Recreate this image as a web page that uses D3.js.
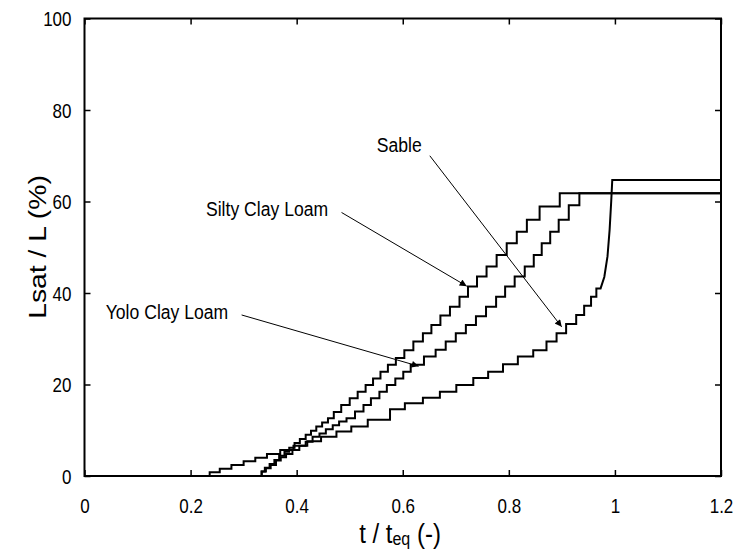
<!DOCTYPE html>
<html>
<head>
<meta charset="utf-8">
<script src="https://cdn.jsdelivr.net/npm/d3@7"></script>
<style>
  html, body { margin: 0; padding: 0; background: #fff; }
  svg { display: block; font-family: "Liberation Sans", Arial, sans-serif; }
</style>
</head>
<body>
<svg id="chart" width="739" height="550"></svg>
<script>
// ---- data ----
const xTicks = [0, 0.2, 0.4, 0.6, 0.8, 1, 1.2];
const yTicks = [0, 20, 40, 60, 80, 100];

// Silty Clay Loam : stair steps (start t of each step, level)
const siltyT = [0.327,0.334,0.340,0.349,0.358,0.367,0.377,0.386,0.396,0.406,0.417,0.427,0.437,0.448,0.459,0.470,0.484,0.500,0.515,0.530,0.544,0.558,0.572,0.587,0.603,0.620,0.638,0.654,0.671,0.689,0.707,0.723,0.740,0.758,0.777,0.796,0.815,0.834,0.858,0.896,1.2];
const siltyV = [0,1.0,1.8,2.6,3.5,4.4,5.3,6.2,7.2,8.1,9.0,9.9,10.8,11.7,12.6,14.0,15.5,17.0,18.4,19.9,21.3,22.8,24.3,25.8,27.5,29.4,31.2,33.0,35.1,37.0,39.2,41.4,43.6,45.8,48.3,50.9,53.4,56.0,58.9,61.8,61.8];

// Yolo Clay Loam
const yoloT = [0.327,0.334,0.342,0.351,0.361,0.370,0.380,0.392,0.405,0.417,0.430,0.443,0.455,0.468,0.480,0.494,0.510,0.526,0.540,0.556,0.570,0.586,0.601,0.615,0.640,0.662,0.681,0.700,0.719,0.738,0.757,0.776,0.793,0.811,0.830,0.847,0.862,0.878,0.894,0.913,0.933,1.2];
const yoloV = [0,1.0,1.7,2.4,3.4,4.1,4.8,5.7,6.6,7.5,8.6,9.3,10.2,11.1,11.9,12.6,14.1,15.5,17.0,18.4,19.9,21.3,22.8,24.3,26.1,27.6,29.4,31.2,33.0,34.9,37.0,39.2,41.4,43.6,45.8,48.3,50.9,53.4,56.0,59.2,61.8,61.8];

// Sable : stair part, then a smooth rise to the plateau
const sableT = [0.230,0.236,0.255,0.277,0.300,0.322,0.344,0.369,0.394,0.420,0.446,0.475,0.503,0.534,0.576,0.604,0.638,0.670,0.701,0.733,0.761,0.789,0.817,0.846,0.871,0.890,0.908,0.927,0.942,0.955,0.965];
const sableV = [0,0.8,1.6,2.4,3.2,4.0,4.8,5.7,6.6,7.6,8.6,9.7,10.8,12.3,14.6,15.9,17.1,18.4,19.9,21.4,22.8,24.4,26.1,27.5,29.4,31.2,33.2,35.2,37.2,39.2,41.0];
const sableTailT = [0.973,0.980,0.986,0.990,0.993,0.995,1.2];
const sableTailV = [41.0,43.5,48.0,53.8,60.0,64.7,64.7];

// annotations: label text, label position, arrow start, arrow tip (data units)
const annLabels = ["Silty Clay Loam", "Yolo Clay Loam", "Sable"];
const annLabelT = [0.2290, 0.0400, 0.551];
const annLabelV = [56.8, 34.3, 70.8];
const annFromT = [0.4846, 0.2962, 0.651];
const annFromV = [57.6, 35.2, 70.0];
const annToT = [0.7206, 0.630, 0.8996];
const annToV = [41.5, 24.0, 32.6];

// ---- drawing ----
const SY = 1.18;   // text in the reference is vertically stretched
const svg = d3.select("#chart");
const x = d3.scaleLinear().domain([0, 1.2]).range([84.5, 721]);
const y = d3.scaleLinear().domain([0, 100]).range([476, 18.5]);

function stairs(ts, vs, tailT, tailV) {
  const pts = [];
  for (let i = 0; i < ts.length; i++) {
    pts.push([ts[i], vs[i]]);
    const nextT = (i + 1 < ts.length) ? ts[i + 1] : (tailT ? tailT[0] : null);
    if (nextT !== null) pts.push([nextT, vs[i]]);
  }
  if (tailT) tailT.forEach((t, i) => pts.push([t, tailV[i]]));
  return pts;
}

const line = d3.line().x(d => x(d[0])).y(d => y(d[1]));

const series = [
  stairs(siltyT, siltyV),
  stairs(yoloT, yoloV),
  stairs(sableT, sableV, sableTailT, sableTailV)
];

svg.append("g").selectAll("path").data(series).join("path")
  .attr("d", line)
  .attr("fill", "none")
  .attr("stroke", "#000")
  .attr("stroke-width", 2)
  .attr("stroke-linejoin", "miter");

// axes (ticks inward on all four sides)
const tickLen = 6;
const axB = svg.append("g").attr("transform", `translate(0,${y(0)})`)
  .call(d3.axisBottom(x).tickValues(xTicks).tickSize(-tickLen).tickFormat(d3.format("")));
const axT = svg.append("g").attr("transform", `translate(0,${y(100)})`)
  .call(d3.axisTop(x).tickValues(xTicks).tickSize(-tickLen).tickFormat(""));
const axL = svg.append("g").attr("transform", `translate(${x(0)},0)`)
  .call(d3.axisLeft(y).tickValues(yTicks).tickSize(-tickLen));
const axR = svg.append("g").attr("transform", `translate(${x(1.2)},0)`)
  .call(d3.axisRight(y).tickValues(yTicks).tickSize(-tickLen).tickFormat(""));

[axB, axT, axL, axR].forEach(g => {
  g.select(".domain").remove();
  g.selectAll(".tick line").attr("stroke", "#000").attr("stroke-width", 1.5);
  g.selectAll("text").attr("fill", "#000").style("font-size", "17px")
    .style("font-family", '"Liberation Sans", Arial, sans-serif');
});
axB.selectAll("text").attr("y", 0).attr("dy", 0)
  .attr("transform", `translate(0,37) scale(1,${SY})`);
axL.selectAll("text").attr("x", 0).attr("dy", 0)
  .attr("transform", `translate(-13,7) scale(1,${SY})`);

// frame
svg.append("rect")
  .attr("x", x(0)).attr("y", y(100))
  .attr("width", x(1.2) - x(0)).attr("height", y(0) - y(100))
  .attr("fill", "none").attr("stroke", "#000").attr("stroke-width", 2);

// arrow marker
svg.append("defs").append("marker")
  .attr("id", "ah").attr("viewBox", "0 0 10 10")
  .attr("refX", 10).attr("refY", 5)
  .attr("markerWidth", 10).attr("markerHeight", 7)
  .attr("markerUnits", "userSpaceOnUse")
  .attr("orient", "auto")
  .append("path").attr("d", "M0,0 L10,5 L0,10 Z").attr("fill", "#000");

const ann = svg.append("g");
annLabels.forEach((lab, i) => {
  ann.append("line")
    .attr("x1", x(annFromT[i])).attr("y1", y(annFromV[i]))
    .attr("x2", x(annToT[i])).attr("y2", y(annToV[i]))
    .attr("stroke", "#000").attr("stroke-width", 1)
    .attr("marker-end", "url(#ah)");
  ann.append("text")
    .attr("transform", `translate(${x(annLabelT[i])},${y(annLabelV[i])}) scale(1,${SY})`)
    .attr("font-size", 17.6).attr("fill", "#000")
    .text(lab);
});

// axis titles
const xt = svg.append("text")
  .attr("transform", `translate(400,543) scale(1,${SY})`)
  .attr("text-anchor", "middle").attr("font-size", 24).attr("fill", "#000");
xt.append("tspan").text("t / t");
xt.append("tspan").attr("font-size", 16).attr("dy", 2).text("eq");
xt.append("tspan").attr("dy", -2).text(" (-)");

svg.append("text")
  .attr("transform", `translate(46,247) scale(1,${SY}) rotate(-90)`)
  .attr("text-anchor", "middle").attr("font-size", 24).attr("fill", "#000")
  .text("Lsat / L (%)");
</script>
</body>
</html>
